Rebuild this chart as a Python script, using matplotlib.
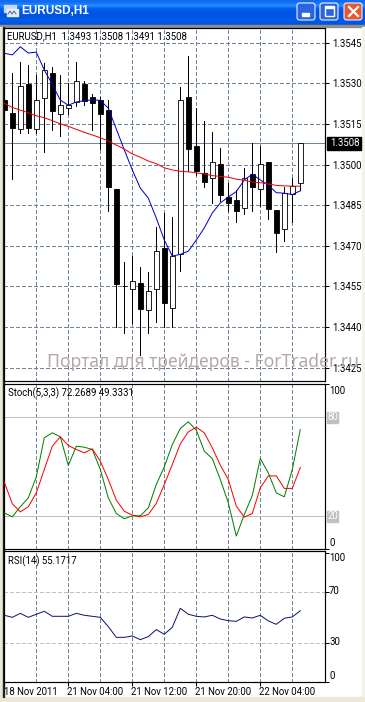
#!/usr/bin/env python3
"""Redraw of an MT4 EURUSD H1 window with Stochastic and RSI panels."""

import matplotlib

matplotlib.use("Agg")
import matplotlib.pyplot as plt
import numpy as np
from matplotlib.patches import FancyBboxPatch, Rectangle

open_ = [1.35238, 1.35190, 1.35130, 1.35297, 1.35130, 1.35247, 1.35338, 1.35188, 1.35208, 1.35231,
         1.35297, 1.35248, 1.35238, 1.35201, 1.34910, 1.34550, 1.34539, 1.34561, 1.34461, 1.34539,
         1.34691, 1.34469, 1.34668, 1.35249, 1.35068, 1.34968, 1.34949, 1.35002, 1.34880, 1.34869,
         1.34838, 1.34964, 1.34908, 1.35008, 1.34832, 1.34761, 1.34891, 1.34931]
high = [1.35238, 1.35339, 1.35379, 1.35368, 1.35331, 1.35374, 1.35361, 1.35331, 1.35300, 1.35380,
        1.35309, 1.35259, 1.35251, 1.35238, 1.34910, 1.34641, 1.34662, 1.34620, 1.34603, 1.34768,
        1.34820, 1.34807, 1.35287, 1.35401, 1.35210, 1.35161, 1.35120, 1.35061, 1.34932, 1.34906,
        1.34988, 1.35078, 1.35068, 1.35008, 1.34832, 1.34918, 1.34951, 1.35080]
low = [1.35046, 1.34948, 1.35118, 1.35118, 1.35118, 1.35047, 1.35128, 1.35105, 1.35186, 1.35217,
       1.35220, 1.35128, 1.35057, 1.34829, 1.34401, 1.34379, 1.34416, 1.34297, 1.34379, 1.34419,
       1.34401, 1.34401, 1.34608, 1.34976, 1.34961, 1.34918, 1.34859, 1.34865, 1.34829, 1.34789,
       1.34817, 1.34829, 1.34848, 1.34800, 1.34678, 1.34719, 1.34789, 1.34906]
close = [1.35201, 1.35136, 1.35289, 1.35136, 1.35238, 1.35349, 1.35199, 1.35219, 1.35219, 1.35309,
         1.35235, 1.35228, 1.35187, 1.34918, 1.34560, 1.34550, 1.34569, 1.34467, 1.34532, 1.34679,
         1.34490, 1.34661, 1.35238, 1.35058, 1.34975, 1.34935, 1.35008, 1.34889, 1.34859, 1.34829,
         1.34949, 1.34918, 1.35001, 1.34837, 1.34748, 1.34896, 1.34921, 1.35080]
ma_fast = [1.35411, 1.35405, 1.35435, 1.35412, 1.35415, 1.35349, 1.35296, 1.35238, 1.35219, 1.35231,
           1.35236, 1.35239, 1.35237, 1.35208, 1.35131, 1.35054, 1.34980, 1.34913, 1.34876, 1.34802,
           1.34721, 1.34662, 1.34668, 1.34680, 1.34721, 1.34766, 1.34821, 1.34858, 1.34880, 1.34900,
           1.34943, 1.34964, 1.34943, 1.34924, 1.34896, 1.34894, 1.34889, 1.34903]
ma_slow = [1.35226, 1.35211, 1.35201, 1.35191, 1.35180, 1.35173, 1.35162, 1.35150, 1.35141, 1.35130,
           1.35119, 1.35109, 1.35099, 1.35087, 1.35072, 1.35057, 1.35039, 1.35027, 1.35013, 1.35003,
           1.34988, 1.34980, 1.34975, 1.34973, 1.34969, 1.34965, 1.34959, 1.34956, 1.34953, 1.34946,
           1.34942, 1.34935, 1.34933, 1.34928, 1.34923, 1.34921, 1.34920, 1.34920]
stoch_main = [21.8, 19.4, 25.5, 30.9, 43.6, 67.3, 70.3, 67.9, 50.5, 62.2,
              61.6, 60.2, 48.1, 30.9, 21.4, 18.2, 20.0, 20.0, 24.8, 39.0,
              49.7, 63.2, 72.9, 77.0, 71.9, 59.2, 54.7, 42.0, 27.9, 7.7,
              20.8, 32.3, 54.7, 46.0, 33.9, 31.5, 48.1, 72.27]
stoch_signal = [40.4, 27.3, 22.4, 25.5, 33.9, 48.1, 62.2, 67.9, 62.6, 60.2,
                58.2, 60.6, 53.1, 42.0, 29.5, 22.8, 20.4, 19.4, 20.8, 27.5,
                39.0, 51.1, 63.6, 70.9, 73.7, 70.3, 61.2, 50.7, 42.0, 25.9,
                19.2, 21.4, 37.0, 44.2, 44.2, 36.6, 36.6, 49.33]
rsi = [51.7, 50.1, 53.2, 50.1, 52.5, 54.8, 50.9, 50.9, 50.9, 53.2,
       51.7, 50.9, 50.1, 42.9, 34.6, 34.6, 35.7, 32.8, 35.2, 40.6,
       37.0, 42.4, 57.1, 52.5, 50.9, 50.4, 51.7, 48.8, 47.5, 47.0,
       50.4, 49.6, 51.7, 47.3, 44.7, 49.4, 50.4, 55.17]
price_ticks = [1.3545, 1.3530, 1.3515, 1.3500, 1.3485, 1.3470, 1.3455, 1.3440, 1.3425]
grid_idx = [4, 8, 12, 16, 20, 24, 28, 32, 36]
time_idx = [0, 8, 16, 24, 32]
time_labels = ["18 Nov 2011", "21 Nov 04:00", "21 Nov 12:00", "21 Nov 20:00", "22 Nov 04:00"]

W, H = 365, 702
PX = 0.72  # one pixel in points at dpi 100
LINE = 0.85 * PX
GRID = "#718499"
FS = 6.95
plt.rcParams["font.family"] = "Roboto"
plt.rcParams["lines.scale_dashes"] = False
DASH = (0, (4 * PX, 2.4 * PX))

fig = plt.figure(figsize=(W / 100, H / 100), dpi=100, facecolor="white")


def panel(left, top, right, bottom, ylim):
    ax = fig.add_axes([left / W, 1 - bottom / H, (right - left) / W, (bottom - top) / H], zorder=2)
    # candle i sits at pixel 4.3 + 8 * i
    ax.set_xlim((left - 4.3) / 8, (right - 4.3) / 8)
    ax.set_ylim(*ylim)
    ax.yaxis.tick_right()
    ax.set_xticks([])
    ax.set_yticks([])
    for spine in ax.spines.values():
        spine.set_linewidth(1.2 * PX)
    for i in grid_idx:
        ax.axvline(i, color=GRID, lw=LINE, ls=DASH, zorder=1, antialiased=False)
    return ax


# window chrome, in pixel coordinates
bg = fig.add_axes([0, 0, 1, 1], zorder=0)
bg.axis("off")
strip = np.array([[0.07, 0.42, 0.95], [0.14, 0.55, 1.0], [0.0, 0.36, 0.93], [0.0, 0.33, 0.90],
                  [0.0, 0.33, 0.88], [0.0, 0.36, 0.92], [0.0, 0.33, 0.88]])
bg.imshow(strip[:, None, :], extent=(0, W, 25, 0), aspect="auto", interpolation="bilinear", zorder=1)
bg.set_xlim(0, W)
bg.set_ylim(H, 0)
bg.add_patch(Rectangle((0, 25), W, 2, color="#8f8f8a", zorder=2))
bg.add_patch(Rectangle((0, 27), 2.5, H, color="#ece9d8", zorder=2))
bg.add_patch(Rectangle((362, 27), 3, H, color="#f4f3ea", zorder=2))
bg.add_patch(Rectangle((0, 697), W, 5, color="#ece9d8", zorder=2))
bg.add_patch(Rectangle((2.5, 27), 1, 670, color="#222222", zorder=2))
bg.add_patch(Rectangle((4, 5), 12, 7, color="#c7d7ee", zorder=3))
bg.add_patch(Rectangle((7, 9), 11, 7, color="#e8eef8", zorder=3))
bg.plot([8, 10, 12, 14, 16], [14, 11, 14, 11, 14], color="#3a6ea5", lw=PX, zorder=4)
bg.text(21, 11.5, "EURUSD,H1", color="white", fontsize=8.5, fontweight="bold", va="center", zorder=4,
        fontfamily="Liberation Sans")
for x0, face in [(297, "#2b63e0"), (320, "#2b63e0"), (344, "#e2583a")]:
    bg.add_patch(FancyBboxPatch((x0, 3), 18, 17, boxstyle="round,pad=0,rounding_size=2.5",
                                fc=face, ec="white", lw=PX, zorder=3))
bg.add_patch(Rectangle((302, 13), 7, 3, color="white", zorder=4))
bg.add_patch(Rectangle((325, 7), 9, 9, fc="none", ec="white", lw=1.4 * PX, zorder=4))
bg.add_patch(Rectangle((325, 6), 9, 2, color="white", zorder=4))
bg.plot([349, 358], [7, 16], color="white", lw=2.2 * PX, zorder=4)
bg.plot([349, 358], [16, 7], color="white", lw=2.2 * PX, zorder=4)

# price panel
PX_PER_PRICE = 1 / 0.00003694
ax_main = panel(3.5, 28, 324.5, 381,
                (1.3545 - (381 - 42.7) / PX_PER_PRICE, 1.3545 + (42.7 - 28) / PX_PER_PRICE))
for price in price_ticks:
    ax_main.axhline(price, color=GRID, lw=LINE, ls=DASH, zorder=1, antialiased=False)
ax_main.axhline(close[-1], color=GRID, lw=LINE, zorder=1, antialiased=False)
ax_main.set_yticks(price_ticks, [f"{p:.4f}" for p in price_ticks], fontsize=FS)
ax_main.tick_params(axis="y", length=3, width=PX, pad=2.5)

x = np.arange(len(close))
o, h, l, c = map(np.array, (open_, high, low, close))
ax_main.vlines(x, l, h, color="black", lw=LINE, zorder=3, antialiased=False)
ax_main.bar(x, np.maximum(np.abs(c - o), 1e-5), bottom=np.minimum(o, c), width=0.6,
            color=["white" if up else "black" for up in c >= o],
            edgecolor="black", linewidth=LINE, zorder=4)
ax_main.plot(x, ma_fast, color="#0000cc", lw=PX, zorder=5)
ax_main.plot(x, ma_slow, color="#ee0000", lw=PX, zorder=6)

# stochastic panel
ax_stoch = panel(3.5, 383.5, 324.5, 548.8, (0, 100.2))
for level in (20, 80):
    ax_stoch.axhline(level, color="#c0c0c0", lw=LINE, zorder=1, antialiased=False)
ax_stoch.set_yticks([0, 100], ["", ""])
ax_stoch.tick_params(axis="y", length=3, width=PX)
ax_stoch.plot(x, stoch_main, color="#008000", lw=PX, zorder=4)
ax_stoch.plot(x, stoch_signal, color="#ff0000", lw=PX, zorder=5)

# rsi panel
ax_rsi = panel(3.5, 551, 324.5, 682, (0, 101.5))
for level in (30, 70):
    ax_rsi.axhline(level, color="#c0c0c0", lw=LINE, ls=DASH, zorder=1, antialiased=False)
ax_rsi.set_yticks([0, 30, 70, 100], ["", "", "", ""])
ax_rsi.tick_params(axis="y", length=3, width=PX)
ax_rsi.plot(x, rsi, color="#14146e", lw=PX, zorder=4)
ax_rsi.set_xticks(time_idx, [""] * len(time_idx))
ax_rsi.tick_params(axis="x", length=3, width=PX)

# text that overlaps panels or sits beside them, in pixel coordinates
top = fig.add_axes([0, 0, 1, 1], zorder=5)
top.set_xlim(0, W)
top.set_ylim(H, 0)
top.axis("off")
top.patch.set_alpha(0)
top.text(7, 36.5, "EURUSD,H1  1.3493 1.3508 1.3491 1.3508", fontsize=FS, va="center")
top.text(7.5, 393.5, "Stoch(5,3,3) 72.2689 49.3331", fontsize=FS, va="center")
top.text(7.5, 561.5, "RSI(14) 55.1717", fontsize=FS, va="center")
top.text(47, 362, "Портал для трейдеров - ForTrader.ru", fontsize=12.6, color="#b3a8a8", va="center",
         fontfamily="Noto Sans")
top.add_patch(Rectangle((327, 137), 34, 12.5, color="black", zorder=3))
top.text(330, 143.2, f"{close[-1]:.4f}", fontsize=FS, color="white", va="center", zorder=4)
top.text(329, 390.5, "100", fontsize=FS, va="center")
top.text(329, 542.5, "0", fontsize=FS, va="center")
for label, y in [("80", 417), ("20", 516)]:
    top.add_patch(Rectangle((327, y - 5.5), 11, 11, color="#c0c0c0"))
    top.text(328, y, label, fontsize=FS, color="white", va="center", zorder=4)
for label, y in [("100", 558), ("70", 590.5), ("30", 642), ("0", 676)]:
    top.text(329, y, label, fontsize=FS, va="center")
for i, label in zip(time_idx, time_labels):
    top.text(4.3 + 8 * i - (0 if i == 0 else 1.5), 692, label, fontsize=FS, va="center")

fig.savefig("out.png", dpi=100)
